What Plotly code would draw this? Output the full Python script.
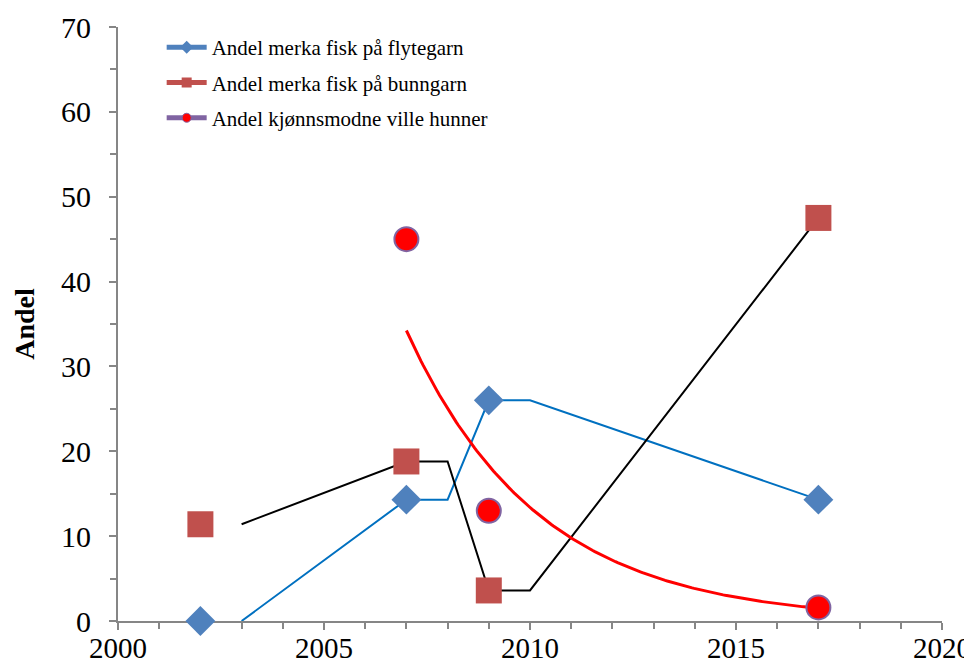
import numpy as np
import plotly.graph_objects as go

# Data
flyt_years = [2002, 2007, 2009, 2017]
flyt_vals = [0.0, 14.3, 26.0, 14.3]

bunn_years = [2002, 2007, 2009, 2017]
bunn_vals = [11.4, 18.8, 3.6, 47.5]

hunn_years = [2007, 2009, 2017]
hunn_vals = [45.0, 13.0, 1.6]

# Moving-average style trend lines (as drawn)
flyt_trend_x = [2003, 2007, 2008, 2009, 2010, 2017]
flyt_trend_y = [0.0, 14.3, 14.3, 26.0, 26.0, 14.3]
bunn_trend_x = [2003, 2007, 2008, 2009, 2010, 2017]
bunn_trend_y = [11.4, 18.8, 18.8, 3.6, 3.6, 47.5]

x_ticks = [2000, 2005, 2010, 2015, 2020]
y_ticks = [0, 10, 20, 30, 40, 50, 60, 70]

names = ["Andel merka fisk på flytegarn",
         "Andel merka fisk på bunngarn",
         "Andel kjønnsmodne ville hunner"]

# Exponential trendline fitted to the hunner data
hx = np.array(hunn_years, dtype=float)
hy = np.array(hunn_vals, dtype=float)
b, lna = np.polyfit(hx - hx[0], np.log(hy), 1)
ex = np.linspace(hx[0], hx[-1], 200)
ey = np.exp(lna) * np.exp(b * (ex - hx[0]))

FONT = "Liberation Serif"
fig = go.Figure()

# Trend lines
fig.add_trace(go.Scatter(x=flyt_trend_x, y=flyt_trend_y, mode="lines",
                         line=dict(color="#0070C0", width=2), showlegend=False, hoverinfo="skip"))
fig.add_trace(go.Scatter(x=bunn_trend_x, y=bunn_trend_y, mode="lines",
                         line=dict(color="black", width=2), showlegend=False, hoverinfo="skip"))
fig.add_trace(go.Scatter(x=ex, y=ey, mode="lines",
                         line=dict(color="#FF0000", width=3), showlegend=False, hoverinfo="skip"))

# Markers
fig.add_trace(go.Scatter(x=flyt_years, y=flyt_vals, mode="markers", name=names[0], showlegend=False,
                         cliponaxis=False,
                         marker=dict(symbol="diamond", size=23, color="#4F81BD", line=dict(width=0))))
fig.add_trace(go.Scatter(x=bunn_years, y=bunn_vals, mode="markers", name=names[1], showlegend=False,
                         cliponaxis=False,
                         marker=dict(symbol="square", size=26, color="#C0504D", line=dict(width=0))))
fig.add_trace(go.Scatter(x=hunn_years, y=hunn_vals, mode="markers", name=names[2], showlegend=False,
                         cliponaxis=False,
                         marker=dict(symbol="circle", size=24, color="#FF0000",
                                     line=dict(width=2, color="#8064A2"))))

# Legend-only entries
leg_styles = [
    dict(line=dict(color="#4F81BD", width=5),
         marker=dict(symbol="diamond", size=10, color="#4F81BD")),
    dict(line=dict(color="#C0504D", width=5),
         marker=dict(symbol="square", size=10, color="#C0504D")),
    dict(line=dict(color="#8064A2", width=5),
         marker=dict(symbol="circle", size=9, color="#FF0000", line=dict(width=1, color="#8064A2"))),
]
for i, (nm, st) in enumerate(zip(names, leg_styles)):
    fig.add_trace(go.Scatter(x=[None], y=[None], mode="lines+markers", name=nm,
                             legendgroup=f"g{i}", **st))

axis_common = dict(showgrid=False, zeroline=False, showline=True, linecolor="#868686", linewidth=2,
                   ticks="outside", tickcolor="#868686", tickwidth=2, ticklen=7, automargin=False,
                   layer="below traces")

# The page places the figure 8px from the top-left corner
fig.update_layout(
    width=964, height=656,
    margin=dict(l=110, r=30, t=19, b=43),
    paper_bgcolor="white", plot_bgcolor="white",
    font=dict(family=FONT, color="black"),
    xaxis=dict(range=[2000, 2020], tickvals=x_ticks, ticklabelstandoff=-7,
               tickfont=dict(family=FONT, size=29, color="black"),
               minor=dict(dtick=1, ticks="outside", ticklen=6, tickcolor="#868686", tickwidth=2),
               **axis_common),
    yaxis=dict(range=[0, 70], tickvals=y_ticks, ticklabelstandoff=12,
               tickfont=dict(family=FONT, size=30, color="black"),
               title=dict(text="<b>Andel</b>", font=dict(family=FONT, size=28), standoff=18),
               minor=dict(dtick=5, ticks="outside", ticklen=6, tickcolor="#868686", tickwidth=2),
               **axis_common),
    legend=dict(x=0.053, y=1.0, xanchor="left", yanchor="top", bgcolor="rgba(0,0,0,0)",
                font=dict(family=FONT, size=21, color="black"), tracegroupgap=5, itemwidth=40),
)

fig.write_html("out.html")
